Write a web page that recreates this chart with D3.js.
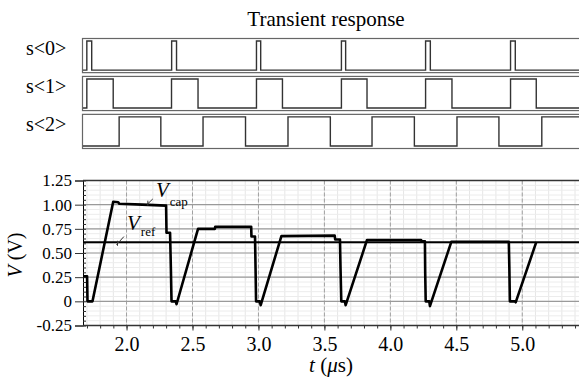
<!DOCTYPE html>
<html>
<head>
<meta charset="utf-8">
<script src="https://cdn.jsdelivr.net/npm/d3@7"></script>
<style>
  body { margin: 0; background: #fff; }
  svg { display: block; }
  svg text { font-family: "Liberation Serif", "Times New Roman", serif; }
</style>
</head>
<body>
<div id="chart"></div>
<script>
const title = "Transient response";
const signalNames = ["s<0>", "s<1>", "s<2>"];

// digital signals: level at start, then toggle times (µs)
const signalStart = [0, 0, 0];
const s0Edges = [1.699, 1.736, 2.342, 2.379, 2.985, 3.017, 3.629, 3.661, 4.267, 4.303, 4.911, 4.947];
const s1Edges = [1.699, 1.899, 2.341, 2.542, 2.985, 3.182, 3.629, 3.823, 4.267, 4.467, 4.911, 5.106];
const s2Edges = [1.944, 2.260, 2.580, 2.902, 3.224, 3.545, 3.861, 4.182, 4.505, 4.823, 5.148];

// V_cap waveform [t (µs), V]
const vcap = [
  [1.67, 0.26], [1.701, 0.26], [1.704, 0.0], [1.742, 0.0], [1.899, 1.03], [1.937, 1.025],
  [1.945, 1.01], [2.12, 1.0], [2.30, 0.99], [2.303, 0.71], [2.33, 0.71], [2.336, 0.35],
  [2.341, 0.0], [2.373, 0.0], [2.379, -0.03], [2.542, 0.75], [2.67, 0.75], [2.672, 0.77],
  [2.945, 0.77], [2.947, 0.67], [2.974, 0.67], [2.978, 0.35], [2.982, 0.0], [3.01, 0.0],
  [3.017, -0.04], [3.174, 0.675], [3.578, 0.68], [3.582, 0.64], [3.618, 0.64], [3.622, 0.35],
  [3.628, 0.0], [3.655, 0.0], [3.661, -0.04], [3.823, 0.635], [4.233, 0.635], [4.236, 0.62],
  [4.262, 0.62], [4.264, 0.3], [4.268, 0.0], [4.295, 0.0], [4.300, -0.05], [4.462, 0.615],
  [4.898, 0.615], [4.902, 0.35], [4.906, 0.0], [4.944, 0.0], [4.950, -0.01], [5.106, 0.612]
];
const vref = 0.61;

const xTicks = [2.0, 2.5, 3.0, 3.5, 4.0, 4.5, 5.0];
const xTickLabels = ["2.0", "2.5", "3.0", "3.5", "4.0", "4.5", "5.0"];
const yTicks = [-0.25, 0, 0.25, 0.5, 0.75, 1.0, 1.25];
const yTickLabels = ["-0.25", "0", "0.25", "0.50", "0.75", "1.00", "1.25"];

const width = 579, height = 380;
const plotLeft = 83, plotTop = 180.5, plotBottom = 325.5;
const serif = "'Liberation Serif', 'Times New Roman', serif";

const svg = d3.select("#chart").append("svg")
  .attr("width", width)
  .attr("height", height);

const x = d3.scaleLinear().domain([1.67, 5.43]).range([plotLeft, width]);
const y = d3.scaleLinear().domain([-0.25, 1.25]).range([plotBottom, plotTop]);

// title
svg.append("text")
  .attr("x", 326)
  .attr("y", 26)
  .attr("text-anchor", "middle")
  .style("font-size", "21px")
  .text(title);

// digital rows
const rows = d3.scaleBand()
  .domain(signalNames)
  .range([38.5, 148.5])
  .paddingInner(0.1);

const allEdges = [s0Edges, s1Edges, s2Edges];

function stepPoints(start, edges) {
  const pts = [[x.domain()[0], start]];
  let lvl = start;
  edges.forEach(t => {
    pts.push([t, lvl]);
    lvl = 1 - lvl;
    pts.push([t, lvl]);
  });
  pts.push([x.domain()[1], lvl]);
  return pts;
}

signalNames.forEach((name, i) => {
  const top = rows(name);
  const bottom = top + rows.bandwidth();
  const g = svg.append("g").attr("class", "signal");

  g.append("rect")
    .attr("x", plotLeft - 0.5)
    .attr("y", top)
    .attr("width", width - plotLeft + 10)
    .attr("height", rows.bandwidth())
    .attr("fill", "none")
    .attr("stroke", "#666")
    .attr("stroke-width", 1.2);

  const level = d3.scaleLinear().domain([0, 1]).range([bottom - 2.5, top + 2.5]);
  const line = d3.line().x(d => x(d[0])).y(d => level(d[1]));

  g.append("path")
    .datum(stepPoints(signalStart[i], allEdges[i]))
    .attr("d", line)
    .attr("fill", "none")
    .attr("stroke", "#333")
    .attr("stroke-width", 1.4);

  g.append("text")
    .attr("x", 26)
    .attr("y", top + 16.5)
    .style("font-size", "20px")
    .text(name);
});

// grid
const grid = svg.append("g").attr("class", "grid");
grid.selectAll("line.minor-x")
  .data(d3.range(1.7, 5.43, 0.1))
  .enter().append("line")
  .attr("x1", d => x(d)).attr("x2", d => x(d))
  .attr("y1", plotTop).attr("y2", plotBottom)
  .attr("stroke", "#e6e6e6").attr("stroke-width", 1);
grid.selectAll("line.minor-y")
  .data(d3.range(-0.25, 1.25, 0.05))
  .enter().append("line")
  .attr("x1", plotLeft).attr("x2", width)
  .attr("y1", d => y(d)).attr("y2", d => y(d))
  .attr("stroke", "#ececec").attr("stroke-width", 1);
grid.selectAll("line.major-x")
  .data(xTicks)
  .enter().append("line")
  .attr("x1", d => x(d)).attr("x2", d => x(d))
  .attr("y1", plotTop).attr("y2", plotBottom)
  .attr("stroke", "#a0a0a0").attr("stroke-dasharray", "4,2").attr("stroke-width", 1);
grid.selectAll("line.major-y")
  .data(yTicks.slice(1, -1))
  .enter().append("line")
  .attr("x1", plotLeft).attr("x2", width)
  .attr("y1", d => y(d)).attr("y2", d => y(d))
  .attr("stroke", "#9a9a9a").attr("stroke-width", 1.2);

// axes
const yAxis = svg.append("g")
  .attr("transform", `translate(${plotLeft},0)`)
  .call(d3.axisLeft(y).tickValues(yTicks).tickFormat((d, i) => yTickLabels[i]).tickSize(8).tickPadding(3));
yAxis.attr("font-family", null);
yAxis.selectAll("text")
  .style("font-family", serif)
  .style("font-size", "17px")
  .attr("fill", "#000");

svg.append("g")
  .attr("transform", `translate(${plotLeft},0)`)
  .call(d3.axisRight(y).tickValues(d3.range(-0.25, 1.26, 0.05)).tickSize(3).tickFormat(""))
  .select(".domain").remove();

const xAxis = svg.append("g")
  .attr("transform", `translate(0,${plotBottom})`)
  .call(d3.axisBottom(x).tickValues(xTicks).tickFormat((d, i) => xTickLabels[i]).tickSize(5).tickPadding(6));
xAxis.attr("font-family", null);
xAxis.select(".domain").remove();
xAxis.selectAll("text")
  .style("font-family", serif)
  .style("font-size", "20px")
  .attr("fill", "#000");

svg.append("g")
  .attr("transform", `translate(0,${plotBottom})`)
  .call(d3.axisBottom(x).tickValues(d3.range(1.7, 5.43, 0.1)).tickSize(3).tickFormat(""))
  .select(".domain").remove();

svg.selectAll(".tick line").attr("stroke", "#333");

// frame lines
svg.append("line")
  .attr("x1", plotLeft).attr("x2", width)
  .attr("y1", plotTop).attr("y2", plotTop)
  .attr("stroke", "#333").attr("stroke-width", 1.5);
svg.append("line")
  .attr("x1", plotLeft).attr("x2", width)
  .attr("y1", plotBottom).attr("y2", plotBottom)
  .attr("stroke", "#333").attr("stroke-width", 1.5);

// V_ref and V_cap
svg.append("line")
  .attr("x1", plotLeft).attr("x2", width)
  .attr("y1", y(vref)).attr("y2", y(vref))
  .attr("stroke", "#000").attr("stroke-width", 2);

svg.append("path")
  .datum(vcap)
  .attr("d", d3.line().x(d => x(d[0])).y(d => y(d[1])))
  .attr("fill", "none")
  .attr("stroke", "#000")
  .attr("stroke-width", 2.6)
  .attr("stroke-linejoin", "round");

// annotations
function label(tx, ty, sub, subDx, subDy) {
  const t = svg.append("text").attr("x", tx).attr("y", ty);
  t.append("tspan").style("font-size", "21px").style("font-style", "italic").text("V");
  t.append("tspan").attr("dx", subDx).attr("dy", subDy).style("font-size", "13px").text(sub);
}
label(156, 197, "cap", 1, 9);
label(127, 230, "ref", 1, 6);

function leader(t0, v0, t1, v1) {
  const x0 = x(t0), y0 = y(v0), x1 = x(t1), y1 = y(v1);
  svg.append("line")
    .attr("x1", x0).attr("y1", y0).attr("x2", x1).attr("y2", y1)
    .attr("stroke", "#333").attr("stroke-width", 1);
  svg.append("line")
    .attr("x1", x0 + 1).attr("y1", y0 - 4).attr("x2", x0 + 1).attr("y2", y0 + 1)
    .attr("stroke", "#333").attr("stroke-width", 1);
}
leader(2.154, 1.0, 2.199, 1.059);
leader(1.924, 0.585, 1.98, 0.67);

// axis titles
const yTitle = svg.append("text")
  .attr("transform", "translate(22,255) rotate(-90)")
  .attr("text-anchor", "middle")
  .style("font-size", "20px");
yTitle.append("tspan").style("font-style", "italic").text("V");
yTitle.append("tspan").text(" (V)");

const xTitle = svg.append("text")
  .attr("x", 331)
  .attr("y", 372)
  .attr("text-anchor", "middle")
  .style("font-size", "21px");
xTitle.append("tspan").style("font-style", "italic").text("t");
xTitle.append("tspan").text(" (");
xTitle.append("tspan").style("font-style", "italic").text("μ");
xTitle.append("tspan").text("s)");
</script>
</body>
</html>
